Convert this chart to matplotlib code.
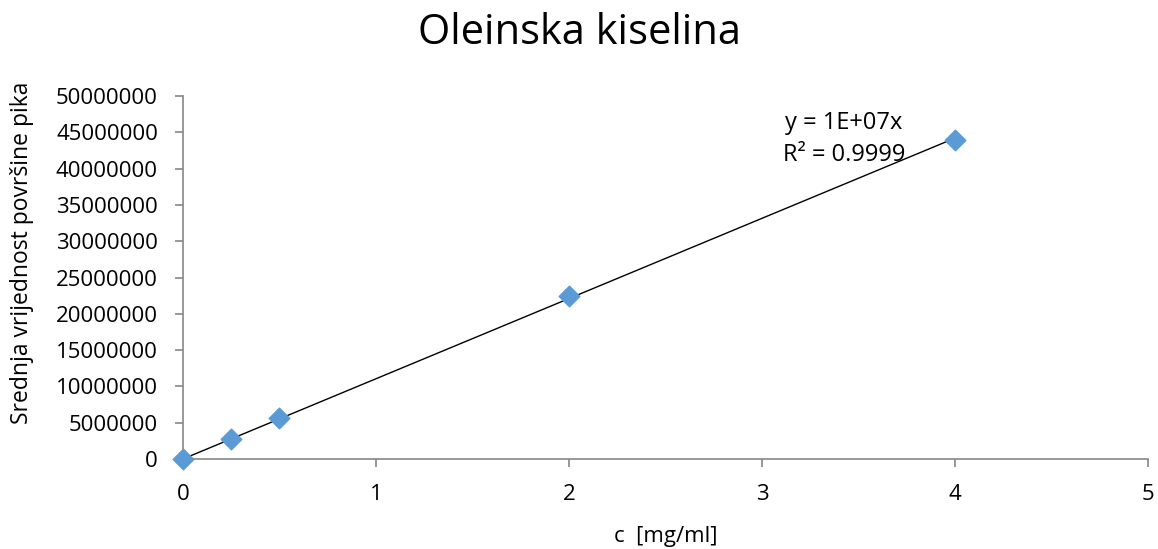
import numpy as np
import matplotlib
matplotlib.use("Agg")
import matplotlib.pyplot as plt
from matplotlib.pyplot import rcParams

rcParams["font.family"] = "Open Sans"

# measured data (concentration vs. mean peak area)
conc = [0, 0.25, 0.5, 2, 4]
area = [0, 2800000, 5600000, 22500000, 44000000]

x_ticks = [0, 1, 2, 3, 4, 5]
y_ticks = list(range(0, 50000001, 5000000))

title = "Oleinska kiselina"
x_label = "c  [mg/ml]"
y_label = "Srednja vrijednost površine pika"
eq_text = "y = 1E+07x\nR² = 0.9999"

# linear fit through the origin
x = np.array(conc, dtype=float)
y = np.array(area, dtype=float)
slope = np.sum(x * y) / np.sum(x * x)
fit_x = np.array([0, max(conc)])
fit_y = slope * fit_x

fig = plt.figure(figsize=(11.58, 5.49), dpi=100)
ax = fig.add_axes([0.158, 0.164, 0.8334, 0.661])

ax.plot(fit_x, fit_y, color="black", lw=1, zorder=2)
ax.scatter(conc, area, marker="D", s=110, color="#5B9BD5", zorder=3, clip_on=False)

ax.set_xlim(0, 5)
ax.set_ylim(0, 50000000)
ax.set_xticks(x_ticks)
ax.set_yticks(y_ticks)
ax.set_xticklabels([str(t) for t in x_ticks])
ax.set_yticklabels([str(t) for t in y_ticks])

for side in ["top", "right"]:
  ax.spines[side].set_visible(False)
for side in ["left", "bottom"]:
  ax.spines[side].set_color("#868686")
  ax.spines[side].set_linewidth(1.2)
ax.tick_params(axis="both", colors="#868686", labelcolor="black", labelsize=16, length=6, width=1.2)
ax.tick_params(axis="x", pad=12)
ax.tick_params(axis="y", pad=12)

ax.set_xlabel(x_label, fontsize=16, labelpad=15)
fig.text(22 / 1158, 1 - 253 / 549, y_label, fontsize=16.5, rotation=90, ha="center", va="center")
fig.text(0.5, 1 - 33 / 549, title, fontsize=30, ha="center", va="center")

ax.text(3.425, 44100000, eq_text, fontsize=17, ha="center", va="center", linespacing=1.45)

plt.savefig("out.png", dpi=100)
